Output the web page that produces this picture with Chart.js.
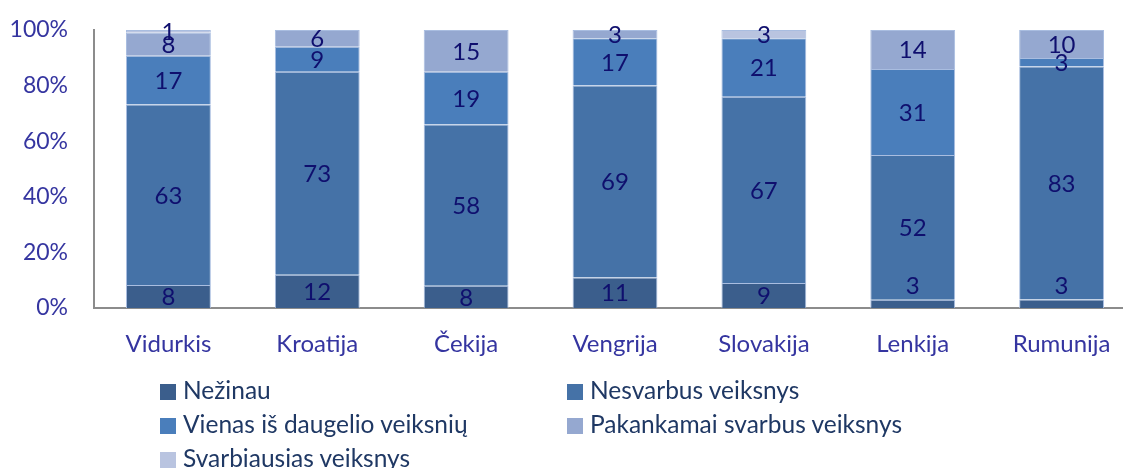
<!DOCTYPE html>
<html>
<head>
<meta charset="utf-8">
<script src="https://cdn.jsdelivr.net/npm/chart.js@4.4.0/dist/chart.umd.min.js"></script>
<style>
  body { margin: 0; overflow: hidden; background: #fff; }
  #wrap { position: relative; width: 1140px; height: 468px; }
  .leg { position: absolute; font-family: Lato, sans-serif; font-size: 24.5px; color: #1f3864; white-space: nowrap; }
  .leg span { display: inline-block; width: 16px; height: 16px; margin-right: 7px; vertical-align: -1px; }
</style>
</head>
<body>
<div id="wrap">
  <canvas id="myChart" width="1140" height="468"></canvas>
</div>
<script>
var countries = ['Vidurkis', 'Kroatija', 'Čekija', 'Vengrija', 'Slovakija', 'Lenkija', 'Rumunija'];
var seriesNames = ['Nežinau', 'Nesvarbus veiksnys', 'Vienas iš daugelio veiksnių', 'Pakankamai svarbus veiksnys', 'Svarbiausias veiksnys'];
var nezinau      = [8, 12, 8, 11, 9, 3, 3];
var nesvarbus    = [63, 73, 58, 69, 67, 52, 83];
var vienas       = [17, 9, 19, 17, 21, 31, 3];
var pakankamai   = [8, 6, 15, 3, 0, 14, 10];
var svarbiausias = [1, 0, 0, 0, 3, 0, 0];
var yTicks = [0, 20, 40, 60, 80, 100];

var colors = ['#3b5e8c', '#4572a7', '#4a7ebb', '#95a8d0', '#b9c4e0'];
var raw = [nezinau, nesvarbus, vienas, pakankamai, svarbiausias];

// 100% stacked: heights are shares of each column total, labels keep the raw numbers
var totals = countries.map(function (c, i) {
  return raw.reduce(function (s, arr) { return s + arr[i]; }, 0);
});

var datasets = raw.map(function (arr, k) {
  return {
    label: seriesNames[k],
    raw: arr,
    data: arr.map(function (v, i) { return v / totals[i] * 100; }),
    backgroundColor: colors[k],
    borderColor: '#a9bde0',
    borderWidth: { top: 1, left: 1, right: 1, bottom: 0 },
    borderSkipped: false,
    categoryPercentage: 1,
    barPercentage: 0.57
  };
});

var segmentLabels = {
  id: 'segmentLabels',
  afterDatasetsDraw: function (chart) {
    var ctx = chart.ctx;
    ctx.save();
    ctx.font = '24px Lato';
    ctx.fillStyle = '#0f0f6e';
    ctx.textAlign = 'center';
    ctx.textBaseline = 'middle';
    chart.data.datasets.forEach(function (ds, k) {
      var meta = chart.getDatasetMeta(k);
      meta.data.forEach(function (bar, i) {
        if (!ds.raw[i]) return;
        var y = (bar.y + bar.base) / 2 + 1;
        // thin bottom slices get their number lifted above the slice
        if (k === 0 && bar.base - bar.y < 16) y = bar.y - 13;
        ctx.fillText(String(ds.raw[i]), bar.x, y);
      });
    });
    ctx.restore();
  }
};

var ctx = document.getElementById('myChart').getContext('2d');
var myChart = new Chart(ctx, {
  type: 'bar',
  data: { labels: countries, datasets: datasets },
  options: {
    responsive: false,
    animation: false,
    layout: { padding: { top: 30, right: 4, left: 0, bottom: 0 } },
    plugins: {
      legend: { display: false },
      tooltip: { enabled: false }
    },
    scales: {
      x: {
        stacked: true,
        grid: { display: false, drawTicks: false },
        border: { display: true, color: '#8c8c8c', width: 2 },
        ticks: { color: '#3535a0', font: { family: 'Lato', size: 24 }, padding: 22 },
        afterFit: function (scale) { scale.height = 160; }
      },
      y: {
        stacked: true,
        min: 0,
        max: 100,
        afterBuildTicks: function (scale) {
          scale.ticks = yTicks.map(function (v) { return { value: v }; });
        },
        grid: { display: false, drawTicks: false },
        border: { display: true, color: '#8c8c8c', width: 2 },
        ticks: {
          color: '#3535a0',
          font: { family: 'Lato', size: 23 },
          padding: 26,
          callback: function (v) { return v + '%'; }
        },
        afterFit: function (scale) {
          scale.width = 94;
          scale.paddingTop = 0;
          scale.paddingBottom = 0;
        }
      }
    }
  },
  plugins: [segmentLabels]
});

// legend in two columns like the original
var wrap = document.getElementById('wrap');
var legPos = [[160, 375], [567, 375], [160, 409], [567, 409], [160, 443]];
seriesNames.forEach(function (name, k) {
  var d = document.createElement('div');
  d.className = 'leg';
  d.style.left = legPos[k][0] + 'px';
  d.style.top = legPos[k][1] + 'px';
  d.innerHTML = '<span style="background:' + colors[k] + '"></span>' + name;
  wrap.appendChild(d);
});
</script>
</body>
</html>
